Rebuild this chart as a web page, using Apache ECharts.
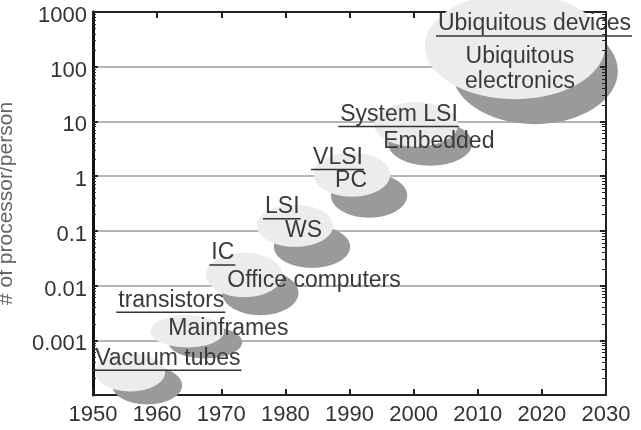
<!DOCTYPE html>
<html>
<head>
<meta charset="utf-8">
<script src="https://cdn.jsdelivr.net/npm/echarts@6/dist/echarts.min.js"></script>
<style>
  html, body { margin: 0; padding: 0; background: #fff; }
  #chart { width: 641px; height: 430px; }
</style>
</head>
<body>
<div id="chart"></div>
<script>
// one blob per era: technology (underlined) and what it was used for
const techNames = ['Vacuum tubes', 'transistors', 'IC', 'LSI', 'VLSI', 'System LSI', 'Ubiquitous devices'];
const useNames = ['', 'Mainframes', 'Office computers', 'WS', 'PC', 'Embedded', 'Ubiquitous\nelectronics'];
// blob centre: year, processors per person
const eraYears = [1955.8, 1964.7, 1973.6, 1981.5, 1990.4, 2000.4, 2015.8];
const eraLevels = [0.00026, 0.00146, 0.0156, 0.124, 1.07, 8.8, 238];
// blob spread: years wide, decades tall
const eraSpanYears = [10.9, 11.5, 11.9, 11.9, 11.9, 13.1, 28.1];
const eraSpanDecades = [0.70, 0.59, 0.81, 0.77, 0.81, 0.81, 1.94];
// tick labels of the log axis, 0.0001 .. 1000
const yTickLabels = ['', '0.001', '0.01', '0.1', '1', '10', '100', '1000'];

// layout (pixels, relative to the light blob centre)
const shadowShift = [[17, 13], [18, 11], [16, 18], [17, 21], [17, 21], [14, 19], [20, 25]];
const shadowScale = [1, 1, 1, 1, 1, 1, 0.92];
const techPos = [[-35, -14], [-69, -31], [-33, -22], [-30, -19], [-39, -17], [-76, -10], [-77, -22]];
const usePos = [[0, 0], [-19, -3], [-17, 6], [-10, 5], [-17, 6], [-33, 17], [5, 23]];
const useAlign = ['left', 'left', 'left', 'left', 'left', 'left', 'center'];

const FONT = '"Liberation Sans", Arial, sans-serif';
const textFont = '23px ' + FONT;
const measure = document.createElement('canvas').getContext('2d');
measure.font = textFont;

const eraData = eraYears.map((y, i) => [y, eraLevels[i], eraSpanYears[i], eraSpanDecades[i]]);

function blob(api) {
  const yr = api.value(0), v = api.value(1), w = api.value(2), d = api.value(3);
  const p1 = api.coord([yr - w / 2, v * Math.pow(10, d / 2)]);
  const p2 = api.coord([yr + w / 2, v / Math.pow(10, d / 2)]);
  return {
    cx: (p1[0] + p2[0]) / 2, cy: (p1[1] + p2[1]) / 2,
    rx: (p2[0] - p1[0]) / 2, ry: (p2[1] - p1[1]) / 2
  };
}

function renderBlob(params, api) {
  const i = params.dataIndex;
  const b = blob(api);
  const s = shadowShift[i], k = shadowScale[i];
  return {
    type: 'group',
    children: [
      { type: 'ellipse', shape: { cx: b.cx + s[0], cy: b.cy + s[1], rx: b.rx * k, ry: b.ry }, style: { fill: '#9a9a9a' } },
      { type: 'ellipse', shape: b, style: { fill: '#ececec' } }
    ]
  };
}

function renderText(params, api) {
  const i = params.dataIndex;
  const b = blob(api);
  const tx = b.cx + techPos[i][0], ty = b.cy + techPos[i][1];
  const tw = measure.measureText(techNames[i]).width;
  const children = [
    { type: 'text', x: tx, y: ty, style: { text: techNames[i], font: textFont, fill: '#3a3a3a', align: 'left', verticalAlign: 'middle' } },
    { type: 'line', shape: { x1: tx - 2, y1: ty + 12, x2: tx + tw + 1, y2: ty + 12 }, style: { stroke: '#333', lineWidth: 1.5 } }
  ];
  if (useNames[i]) {
    children.push({
      type: 'text', x: b.cx + usePos[i][0], y: b.cy + usePos[i][1],
      style: { text: useNames[i], font: textFont, fill: '#3a3a3a', align: useAlign[i], verticalAlign: 'middle', lineHeight: 25 }
    });
  }
  return { type: 'group', children: children };
}

const axisLineStyle = { color: '#222', width: 2 };

const option = {
  animation: false,
  grid: { left: 93, right: 35, top: 12, bottom: 35, outerBoundsMode: 'none', containLabel: false },
  xAxis: [{
    type: 'value', min: 1950, max: 2030, interval: 10, position: 'bottom',
    axisLine: { show: true, onZero: false, lineStyle: axisLineStyle },
    axisTick: { show: true, inside: true, length: 6, lineStyle: axisLineStyle },
    axisLabel: { fontSize: 22, fontFamily: FONT, color: '#333', margin: 9, formatter: v => String(v) },
    splitLine: { show: false }
  }, {
    type: 'value', min: 1950, max: 2030, interval: 10, position: 'top',
    axisLine: { show: true, onZero: false, lineStyle: axisLineStyle },
    axisTick: { show: true, inside: true, length: 6, lineStyle: axisLineStyle },
    axisLabel: { show: false },
    splitLine: { show: false }
  }],
  yAxis: [{
    type: 'log', logBase: 10, min: 0.0001, max: 1000, position: 'left',
    axisLine: { show: true, onZero: false, lineStyle: { color: '#111', width: 3 } },
    axisTick: { show: true, inside: true, length: 5, lineStyle: axisLineStyle },
    minorTick: { show: true, splitNumber: 9, length: 3, lineStyle: { color: '#333' } },
    axisLabel: {
      margin: 6,
      formatter: v => '{v|' + yTickLabels[Math.round(Math.log10(v)) + 4] + '}',
      rich: { v: { fontSize: 22, fontFamily: FONT, color: '#333', padding: [8, 0, 0, 0] } }
    },
    splitLine: { show: true, lineStyle: { color: '#b5b5b5', width: 2 } },
    name: '# of processor/person', nameLocation: 'middle', nameGap: 76,
    nameTextStyle: { fontSize: 21, fontFamily: FONT, color: '#666' }
  }, {
    type: 'log', logBase: 10, min: 0.0001, max: 1000, position: 'right', z: 5,
    axisLine: { show: true, onZero: false, lineStyle: axisLineStyle },
    axisTick: { show: true, inside: true, length: 6, lineStyle: axisLineStyle },
    minorTick: { show: true, splitNumber: 9, length: 4, lineStyle: { color: '#222' } },
    axisLabel: { show: false },
    splitLine: { show: false }
  }],
  series: [{
    type: 'custom', renderItem: renderBlob, data: eraData, z: 2,
    encode: { x: 0, y: 1 }
  }, {
    type: 'custom', renderItem: renderText, data: eraData, z: 3,
    encode: { x: 0, y: 1 }
  }]
};

const myChart = echarts.init(document.getElementById('chart'));
myChart.setOption(option);
</script>
</body>
</html>
